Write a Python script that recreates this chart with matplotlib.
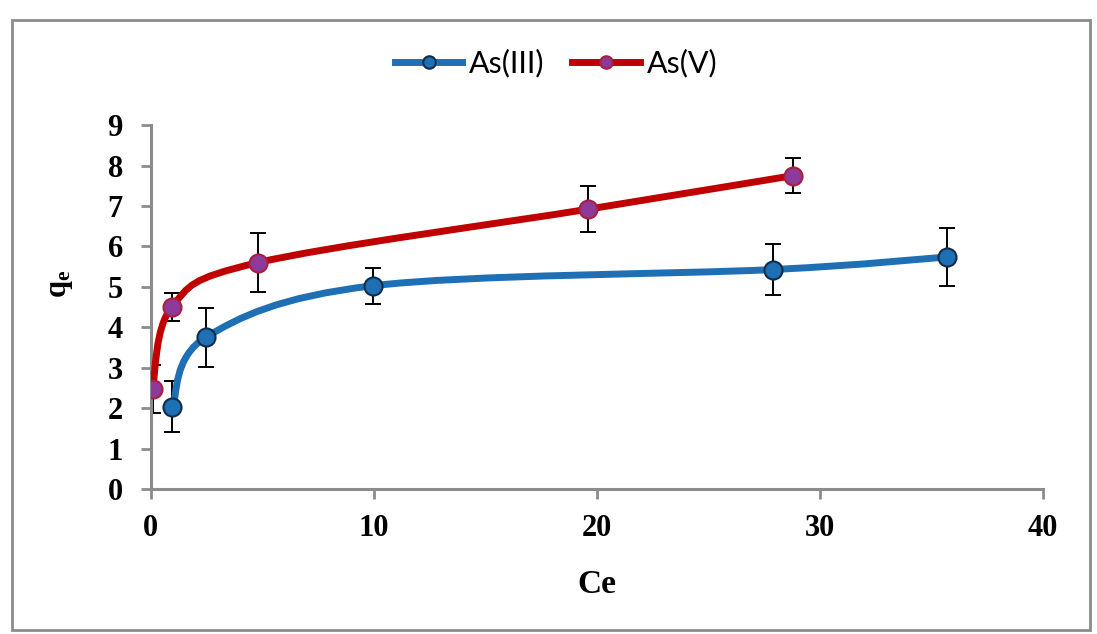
import numpy as np
import matplotlib
matplotlib.use("Agg")
import matplotlib.pyplot as plt
from matplotlib.path import Path
from matplotlib.patches import PathPatch, Rectangle
from matplotlib.lines import Line2D

# ---- data ----
series_names = ["As(III)", "As(V)"]
as3_ce = [0.97, 2.48, 9.97, 27.9, 35.7]
as3_qe = [2.04, 3.76, 5.03, 5.43, 5.74]
as3_err = [0.63, 0.73, 0.44, 0.63, 0.71]
as5_ce = [0.08, 0.95, 4.8, 19.6, 28.8]
as5_qe = [2.48, 4.51, 5.6, 6.92, 7.75]
as5_err = [0.6, 0.34, 0.73, 0.57, 0.44]
x_ticks = [0, 10, 20, 30, 40]
y_ticks = [0, 1, 2, 3, 4, 5, 6, 7, 8, 9]

plt.rcParams['mathtext.fontset'] = 'custom'
plt.rcParams['mathtext.rm'] = 'Liberation Serif'
plt.rcParams['mathtext.bf'] = 'Liberation Serif:bold'

fig = plt.figure(figsize=(10.97, 6.34), dpi=100)
ax = fig.add_axes([0.1374, 0.2282, 0.8134, 0.5746])

# outer border
fig.patches.append(Rectangle((0.011, 0.006), 0.983, 0.962, transform=fig.transFigure,
                             fill=False, edgecolor='#8c8c8c', linewidth=2))


def smooth_path(xs, ys):
    P = np.column_stack([xs, ys]).astype(float)
    n = len(P)
    verts = [P[0]]
    codes = [Path.MOVETO]
    for i in range(n - 1):
        p0 = P[i - 1] if i > 0 else P[i]
        p1 = P[i]
        p2 = P[i + 1]
        p3 = P[i + 2] if i + 2 < n else P[i + 1]
        c1 = p1 + (p2 - p0) / 6.0
        c2 = p2 - (p3 - p1) / 6.0
        verts += [c1, c2, p2]
        codes += [Path.CURVE4] * 3
    return Path(verts, codes)


styles = [
    dict(x=as3_ce, y=as3_qe, e=as3_err, line='#1f6fb5', face='#1f6fb5', edge='#0f2d4a'),
    dict(x=as5_ce, y=as5_qe, e=as5_err, line='#c00000', face='#8e3a9b', edge='#a8203c'),
]
handles = []
for name, s in zip(series_names, styles):
    ax.errorbar(s['x'], s['y'], yerr=s['e'], fmt='none', ecolor='black',
                elinewidth=1.4, capsize=6, capthick=1.4, zorder=2)
    ax.add_patch(PathPatch(smooth_path(s['x'], s['y']), fill=False,
                           edgecolor=s['line'], linewidth=5, capstyle='round', zorder=3))
    ax.plot(s['x'], s['y'], linestyle='none', marker='o', markersize=13,
            markerfacecolor=s['face'], markeredgecolor=s['edge'], markeredgewidth=1.5, zorder=4)
    handles.append(Line2D([], [], color=s['line'], linewidth=5, marker='o', markersize=9,
                          markerfacecolor=s['face'], markeredgecolor=s['edge'],
                          markeredgewidth=1.5, label=name))

ax.set_xlim(0, 40)
ax.set_ylim(0, 9)
ax.set_xticks(x_ticks)
ax.set_yticks(y_ticks)
for sp in ['top', 'right']:
    ax.spines[sp].set_visible(False)
for sp in ['left', 'bottom']:
    ax.spines[sp].set_color('#8c8c8c')
    ax.spines[sp].set_linewidth(2.2)
ax.tick_params(axis='both', direction='out', length=7, width=2, color='#8c8c8c')
ax.tick_params(axis='y', pad=13)
ax.tick_params(axis='x', pad=11)
for lab in ax.get_xticklabels() + ax.get_yticklabels():
    lab.set_fontfamily('Liberation Serif')
    lab.set_fontweight('bold')
    lab.set_fontsize(22)

ax.set_xlabel('Ce', fontfamily='Liberation Serif', fontweight='bold', fontsize=24)
ax.xaxis.set_label_coords(0.5, -0.262)
ax.xaxis.label.set_va('center')
ax.set_ylabel(r'$\mathbf{q_e}$', fontsize=22)
ax.yaxis.set_label_coords(-0.1016, 0.5636)
ax.yaxis.label.set_va('center')

fig.legend(handles=handles, loc='center', bbox_to_anchor=(0.507, 0.9006), ncol=2,
           frameon=False, prop={'family': 'Lato', 'size': 22}, handlelength=2.2,
           handletextpad=0.23, columnspacing=0.9)

fig.savefig('out.png', dpi=100, facecolor='white')
